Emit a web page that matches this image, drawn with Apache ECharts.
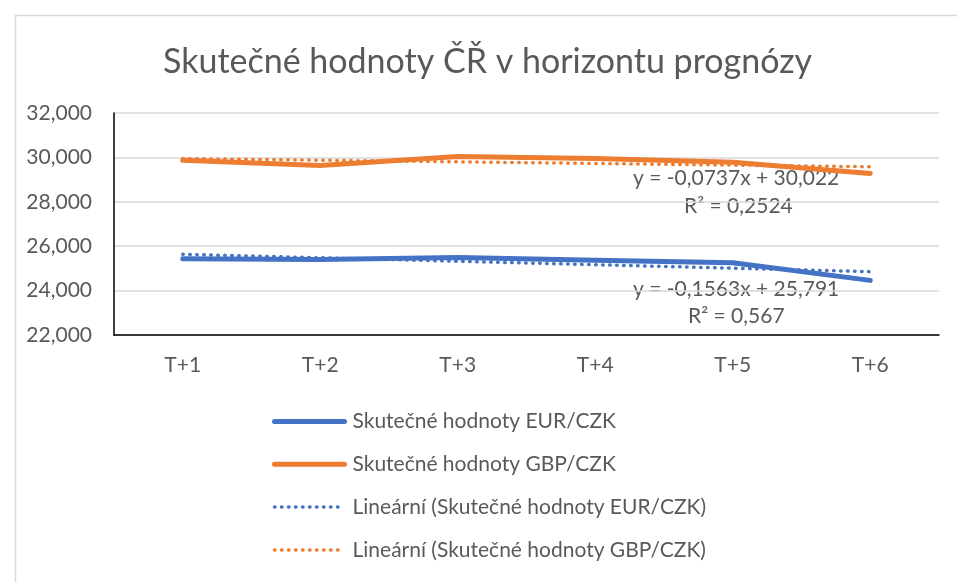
<!DOCTYPE html>
<html>
<head>
<meta charset="utf-8">
<script src="https://cdn.jsdelivr.net/npm/echarts@6/dist/echarts.min.js"></script>
<style>
  html, body { margin: 0; padding: 0; background: #fff; }
  #chart { width: 957px; height: 582px; }
</style>
</head>
<body>
<div id="chart"></div>
<script>
// data
var categories = ['T+1', 'T+2', 'T+3', 'T+4', 'T+5', 'T+6'];
var eurValues = [25.43, 25.40, 25.49, 25.37, 25.25, 24.46];
var gbpValues = [29.87, 29.64, 30.04, 29.95, 29.78, 29.28];
// trend equations as shown in the chart: [slope, intercept]
var eurTrend = [-0.1563, 25.791];
var gbpTrend = [-0.0737, 30.022];
var eurTrendText = ['y = -0,1563x + 25,791', 'R² = 0,567'];
var gbpTrendText = ['y = -0,0737x + 30,022', 'R² = 0,2524'];

var names = [
  'Skutečné hodnoty EUR/CZK',
  'Skutečné hodnoty GBP/CZK',
  'Lineární (Skutečné hodnoty EUR/CZK)',
  'Lineární (Skutečné hodnoty GBP/CZK)'
];

function trendPoints(t) {
  return categories.map(function (c, i) { return +(t[0] * (i + 1) + t[1]).toFixed(4); });
}

var FONT = 'Lato';
var TXT = '#595959';
var BLUE = '#4472C4';
var ORANGE = '#ED7D31';
var DOTS = [0.5, 6.5];

var chart = echarts.init(document.getElementById('chart'));

var option = {
  animation: false,
  textStyle: { fontFamily: FONT },
  title: {
    text: 'Skutečné hodnoty ČŘ v horizontu prognózy',
    left: 158,
    top: 40,
    textStyle: { fontFamily: FONT, fontSize: 34, fontWeight: 'normal', color: TXT }
  },
  grid: { left: 114, right: 18, top: 113, bottom: 247 },
  legend: {
    orient: 'vertical',
    left: 267,
    top: 406,
    itemGap: 21.8,
    itemWidth: 70,
    itemHeight: 23,
    itemStyle: { opacity: 0 },
    lineStyle: { width: 'inherit' },
    textStyle: { fontFamily: FONT, fontSize: 21, color: TXT, padding: [0, 0, 0, 3] },
    data: names
  },
  xAxis: {
    type: 'category',
    data: categories,
    boundaryGap: true,
    axisLine: { lineStyle: { color: '#000', width: 1.5 } },
    axisTick: { show: false },
    axisLabel: { fontFamily: FONT, fontSize: 21, color: TXT, margin: 20 }
  },
  yAxis: {
    type: 'value',
    min: 22,
    max: 32,
    interval: 2,
    axisLine: { show: true, lineStyle: { color: '#000', width: 1.5 } },
    axisTick: { show: false },
    splitLine: { lineStyle: { color: '#d9d9d9', width: 1.5 } },
    axisLabel: {
      fontFamily: FONT, fontSize: 21, color: TXT, margin: 22,
      formatter: function (v) { return v.toFixed(3).replace('.', ','); }
    }
  },
  series: [
    {
      name: names[0], type: 'line', data: eurValues, symbol: 'none',
      color: BLUE, lineStyle: { width: 5, color: BLUE, cap: 'round' }, z: 3
    },
    {
      name: names[1], type: 'line', data: gbpValues, symbol: 'none',
      color: ORANGE, lineStyle: { width: 5, color: ORANGE, cap: 'round' }, z: 3
    },
    {
      name: names[2], type: 'line', data: trendPoints(eurTrend), symbol: 'none',
      color: BLUE, lineStyle: { width: 3.5, color: BLUE, type: DOTS, cap: 'round' }, z: 2
    },
    {
      name: names[3], type: 'line', data: trendPoints(gbpTrend), symbol: 'none',
      color: ORANGE, lineStyle: { width: 3.5, color: ORANGE, type: DOTS, cap: 'round' }, z: 2
    }
  ],
  graphic: [
    {
      type: 'rect', left: 13, top: 13, silent: true, z: -10,
      shape: { width: 960, height: 580 },
      style: { fill: 'none', stroke: '#d9d9d9', lineWidth: 1.5 }
    },
    {
      type: 'text', left: 633, top: 168,
      style: { text: gbpTrendText[0], font: '21px ' + FONT, fill: TXT }
    },
    {
      type: 'text', left: 684, top: 196,
      style: { text: gbpTrendText[1], font: '21px ' + FONT, fill: TXT }
    },
    {
      type: 'text', left: 633, top: 279,
      style: { text: eurTrendText[0], font: '21px ' + FONT, fill: TXT }
    },
    {
      type: 'text', left: 688, top: 306,
      style: { text: eurTrendText[1], font: '21px ' + FONT, fill: TXT }
    }
  ]
};

chart.setOption(option);
</script>
</body>
</html>
